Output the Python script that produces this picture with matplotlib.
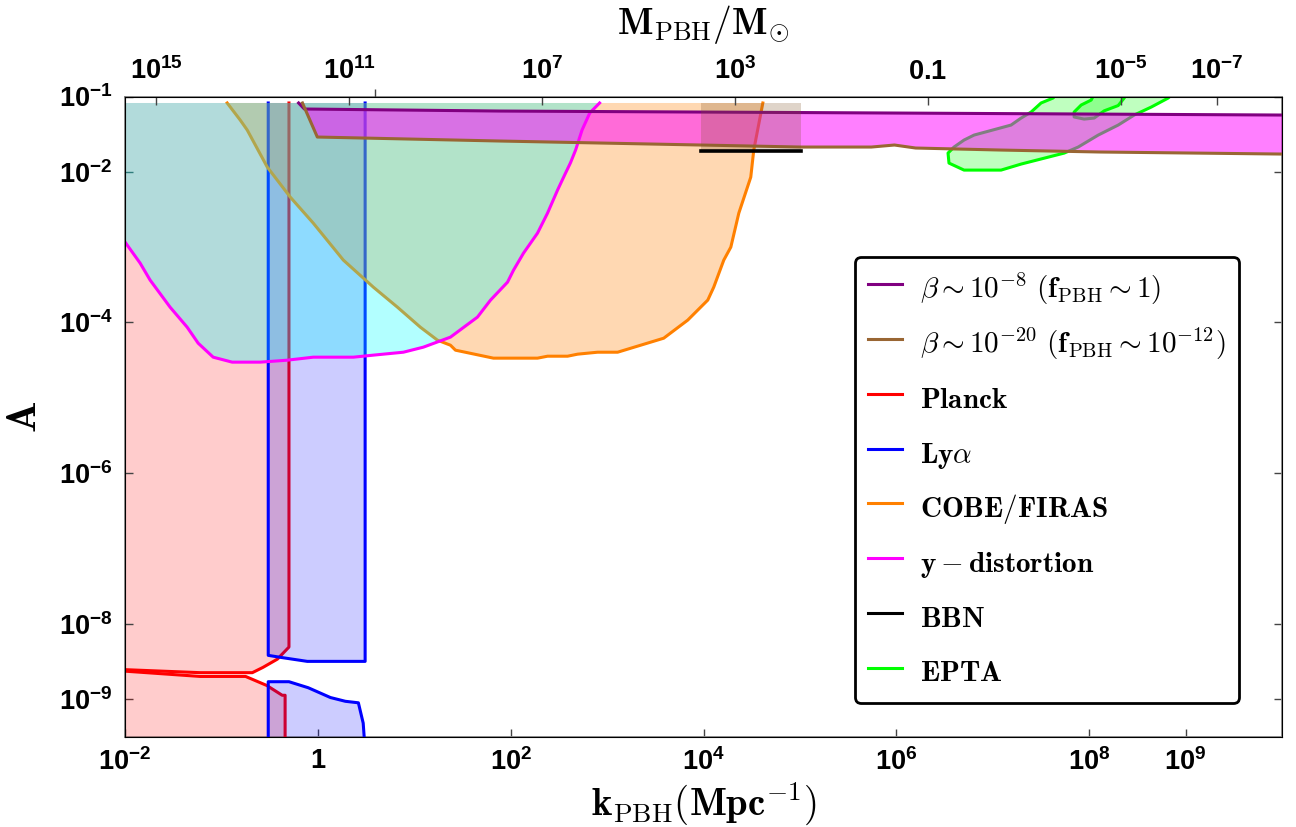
import numpy as np
import matplotlib.pyplot as plt
from matplotlib.lines import Line2D
from matplotlib.ticker import FixedLocator, NullFormatter
from matplotlib.font_manager import FontProperties

plt.rcParams['mathtext.fontset'] = 'cm'
plt.rcParams['mathtext.rm'] = 'Liberation Sans:bold'
plt.rcParams['mathtext.bf'] = 'Liberation Sans:bold'
plt.rcParams['mathtext.it'] = 'Liberation Sans:bold'

# all values are log10(k / Mpc^-1) and log10(A)
A_TOP = -1.086
A_BOT = -9.5

planck_up_lk = [-2.0, -1.22, -0.68, -0.57, -0.42, -0.30, -0.30]
planck_up_lA = [-8.61, -8.65, -8.65, -8.58, -8.47, -8.31, A_TOP]
planck_lo_lk = [-2.0, -1.22, -0.75, -0.53, -0.37, -0.34, -0.34]
planck_lo_lA = [-8.63, -8.70, -8.70, -8.82, -8.95, -8.95, A_BOT]

lya_up_lk = [-0.515, -0.515, -0.37, -0.11, 0.49, 0.49]
lya_up_lA = [A_TOP, -8.42, -8.45, -8.50, -8.50, A_TOP]
lya_lo_lk = [-0.515, -0.515, -0.30, -0.10, 0.13, 0.285, 0.42, 0.47, 0.48]
lya_lo_lA = [A_BOT, -8.77, -8.77, -8.85, -8.98, -9.03, -9.05, -9.32, A_BOT]

cobe_lk = [-0.941, -0.806, -0.733, -0.525, -0.287, -0.048, 0.264, 0.575, 0.825,
           1.063, 1.240, 1.375, 1.427, 1.821, 2.278, 2.382, 2.590, 2.694, 2.901,
           3.109, 3.348, 3.587, 3.836, 4.044, 4.106, 4.210, 4.283, 4.366, 4.490,
           4.521, 4.615]
cobe_lA = [A_TOP, -1.312, -1.445, -1.937, -2.335, -2.681, -3.172, -3.531, -3.797,
           -4.063, -4.235, -4.302, -4.368, -4.474, -4.474, -4.448, -4.448, -4.421,
           -4.395, -4.395, -4.302, -4.209, -3.969, -3.703, -3.531, -3.172, -3.000,
           -2.548, -2.070, -1.711, A_TOP]

ydist_lk = [-2.0, -1.844, -1.740, -1.533, -1.356, -1.242, -1.086, -0.889, -0.598,
            -0.318, -0.048, 0.368, 0.575, 0.887, 1.094, 1.375, 1.655, 1.790, 1.967,
            2.029, 2.133, 2.278, 2.382, 2.486, 2.569, 2.620, 2.673, 2.740, 2.820, 2.922]
ydist_lA = [-2.933, -3.212, -3.438, -3.797, -4.063, -4.275, -4.461, -4.527, -4.527,
            -4.501, -4.461, -4.461, -4.434, -4.395, -4.328, -4.195, -3.929, -3.704,
            -3.465, -3.306, -3.079, -2.814, -2.548, -2.242, -2.016, -1.880, -1.711,
            -1.445, -1.219, A_TOP]

beta8_lk = [-0.20, -0.14, 1.89, 5.01, 10.0]
beta8_lA = [A_TOP, -1.166, -1.193, -1.213, -1.246]
beta20_lk = [-0.16, -0.006, 1.89, 3.97, 5.01, 5.74, 5.98, 6.20, 7.09, 8.12, 10.0]
beta20_lA = [A_TOP, -1.538, -1.591, -1.644, -1.671, -1.671, -1.644, -1.684, -1.711,
             -1.737, -1.764]

bbn_lk = [3.97, 5.01]
bbn_lA = -1.72

epta_out_lk = [7.688, 7.626, 7.501, 7.398, 7.294, 7.190, 6.806, 6.702, 6.598, 6.536,
               6.546, 6.702, 7.086, 7.294, 7.741, 7.886, 8.094, 8.301, 8.467, 8.644,
               8.820, 8.903]
epta_out_lA = [-0.914, -1.020, -1.086, -1.206, -1.286, -1.379, -1.512, -1.578, -1.671,
               -1.751, -1.884, -1.977, -1.977, -1.897, -1.751, -1.671, -1.512, -1.379,
               -1.246, -1.140, -1.020, -0.914]
epta_in_lk = [8.073, 8.021, 7.917, 7.844, 7.844, 7.948, 8.052, 8.156, 8.301, 8.363, 8.415]
epta_in_lA = [-0.914, -1.047, -1.113, -1.206, -1.272, -1.300, -1.286, -1.190, -1.120,
              -1.020, -0.914]

x_ticks = [1e-2, 1, 1e2, 1e4, 1e6, 1e8, 1e9]
x_labels = ['$10^{-2}$', '$1$', '$10^{2}$', '$10^{4}$', '$10^{6}$', '$10^{8}$', '$10^{9}$']
y_ticks = [1e-9, 1e-8, 1e-6, 1e-4, 1e-2, 1e-1]
y_labels = ['$10^{-9}$', '$10^{-8}$', '$10^{-6}$', '$10^{-4}$', '$10^{-2}$', '$10^{-1}$']
m_ticks = [1e15, 1e11, 1e7, 1e3, 0.1, 1e-5, 1e-7]
m_labels = ['$10^{15}$', '$10^{11}$', '$10^{7}$', '$10^{3}$', '$0.1$', '$10^{-5}$', '$10^{-7}$']
M_CONST = 10**11.65   # M_PBH / M_sun = M_CONST * k^-2


def P(lk, lA):
    return 10**np.asarray(lk, float), 10**np.asarray(lA, float)


fig = plt.figure(figsize=(12.96, 8.27), dpi=100)
ax = fig.add_axes([0.0965, 0.1092, 0.8927, 0.7741])
ax.set_xscale('log')
ax.set_yscale('log')

LW = 2.2
top = 10**A_TOP
z = [0]


def zz():
    z[0] += 1
    return z[0]


# Planck
k, a = P(planck_up_lk, planck_up_lA)
ax.fill(np.r_[k, 1e-2], np.r_[a, top], color='red', alpha=0.2, lw=0, zorder=zz())
ax.plot(k, a, color='red', lw=LW, zorder=zz())
k, a = P(planck_lo_lk, planck_lo_lA)
ax.fill(np.r_[k, 1e-2], np.r_[a, 10**A_BOT], color='red', alpha=0.2, lw=0, zorder=zz())
ax.plot(k, a, color='red', lw=LW, zorder=zz())

# Lyman alpha
for lk, lA in [(lya_up_lk, lya_up_lA), (lya_lo_lk, lya_lo_lA)]:
    k, a = P(lk, lA)
    ax.fill(k, a, color='blue', alpha=0.2, lw=0, zorder=zz())
    ax.plot(k, a, color='blue', lw=LW, zorder=zz())

# COBE/FIRAS
k, a = P(cobe_lk, cobe_lA)
ax.fill(k, a, color=(1, 0.5, 0), alpha=0.3, lw=0, zorder=zz())
ax.plot(k, a, color=(1, 0.5, 0), lw=LW, zorder=zz())

# y-distortion
k, a = P(ydist_lk, ydist_lA)
ax.fill(np.r_[k, 1e-2], np.r_[a, top], color='cyan', alpha=0.3, lw=0, zorder=zz())
ax.plot(k, a, color='magenta', lw=LW, zorder=zz())

# EPTA
for lk, lA in [(epta_out_lk, epta_out_lA), (epta_in_lk, epta_in_lA)]:
    k, a = P(lk, lA)
    ax.fill(k, a, color='lime', alpha=0.25, lw=0, zorder=zz())
    ax.plot(k, a, color='lime', lw=LW, zorder=zz())

# beta band
k8, a8 = P(beta8_lk, beta8_lA)
k20, a20 = P(beta20_lk, beta20_lA)
ax.fill(np.r_[k8, k20[::-1]], np.r_[a8, a20[::-1]], color='magenta', alpha=0.5, lw=0,
        zorder=zz())
ax.plot(k8, a8, color='purple', lw=LW, zorder=zz())
ax.plot(k20, a20, color='#996633', lw=LW, zorder=zz())

# BBN
kb = 10**np.array(bbn_lk)
ax.fill_between(kb, 10**bbn_lA, top, color='#80552a', alpha=0.25, lw=0, zorder=zz())
ax.plot(kb, [10**bbn_lA] * 2, color='black', lw=2.6, zorder=zz())

ax.set_xlim(1e-2, 1e10)
ax.set_ylim(10**A_BOT, 1e-1)

tick_fp = FontProperties(family='Liberation Sans', weight='bold', size=19.5,
                         math_fontfamily='custom')
ax.minorticks_off()
ax.set_xticks(x_ticks)
ax.set_xticklabels(x_labels, fontproperties=tick_fp)
ax.set_yticks(y_ticks)
ax.set_yticklabels(y_labels, fontproperties=tick_fp)
ax.tick_params(axis='both', which='major', direction='in', length=6, width=1,
               color='#444444', right=True, top=False)
ax.tick_params(axis='x', pad=8)
ax.tick_params(axis='y', pad=9)
for s in ax.spines.values():
    s.set_color('#8a8a8a')
    s.set_linewidth(1.3)

ax2 = ax.twiny()
ax2.set_xscale('log')
ax2.set_xlim(ax.get_xlim())
ax2.set_xticks([np.sqrt(M_CONST / m) for m in m_ticks])
ax2.set_xticklabels(m_labels, fontproperties=tick_fp)
ax2.xaxis.set_minor_locator(FixedLocator([10**0.596]))
ax2.xaxis.set_minor_formatter(NullFormatter())
ax2.tick_params(axis='x', which='major', direction='in', length=6, width=1,
                color='#444444', pad=8)
ax2.tick_params(axis='x', which='minor', direction='out', length=6, width=1,
                color='#444444')

ax.set_xlabel(r'$\mathbf{k}_{\rm PBH}(\mathbf{Mpc}^{\mathbf{-1}})$', fontsize=28, labelpad=4)
ax.set_ylabel(r'$\mathbf{A}$', fontsize=30, labelpad=10)
ax2.set_xlabel(r'$\mathbf{M}_{\rm PBH}/\mathbf{M}_{\odot}$', fontsize=27, labelpad=17)

handles = [Line2D([], [], color=c, lw=LW) for c in
           ['purple', '#996633', 'red', 'blue', (1, 0.5, 0), 'magenta', 'black', 'lime']]
labels = [r'$\beta \sim \mathbf{10}^{\mathbf{-8}}\ (\mathbf{f}_{\rm PBH} \sim \mathbf{1})$',
          r'$\beta \sim \mathbf{10}^{\mathbf{-20}}\ (\mathbf{f}_{\rm PBH} \sim \mathbf{10}^{\mathbf{-12}})$',
          r'$\mathbf{Planck}$',
          r'$\mathbf{Ly}\alpha$',
          r'$\mathbf{COBE/FIRAS}$',
          r'$\mathbf{y} - \mathbf{distortion}$',
          r'$\mathbf{BBN}$',
          r'$\mathbf{EPTA}$']
leg = ax.legend(handles, labels, loc='upper left', bbox_to_anchor=(0.631, 0.749),
                borderaxespad=0, fontsize=21, handlelength=1.16, handleheight=1.55,
                handletextpad=0.62, labelspacing=0.62, borderpad=0.45,
                fancybox=True, framealpha=1, edgecolor='black')
leg.get_frame().set_linewidth(2)
leg.set_zorder(50)

fig.savefig('out.png', dpi=100)
